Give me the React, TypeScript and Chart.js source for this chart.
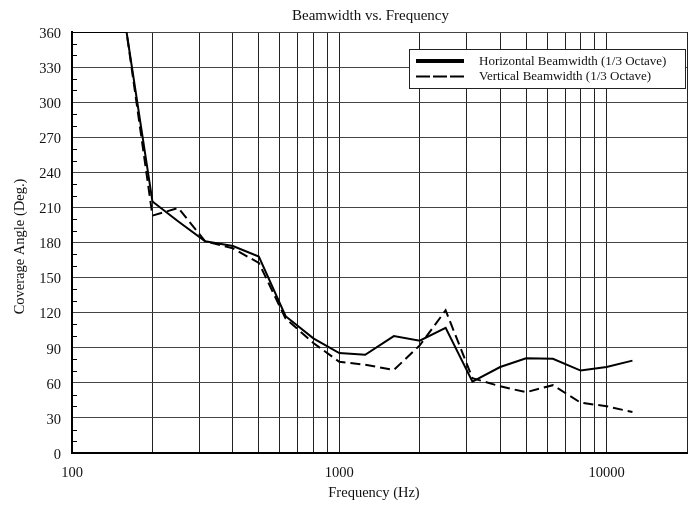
import React, { useEffect, useRef } from 'react';
import { Chart, registerables } from 'chart.js';

Chart.register(...registerables);

// 1/3-octave centre frequencies (Hz)
const frequencies = [100, 125, 160, 200, 250, 315, 400, 500, 630, 800, 1000, 1250, 1600, 2000, 2500, 3150, 4000, 5000, 6300, 8000, 10000, 12500];
// Coverage angle (deg.)
const horizontalBeamwidth = [360, 360, 360, 215, 198, 181, 177, 168, 117, 98, 85.5, 84, 100, 96, 107, 61, 73.5, 81, 80.5, 70.5, 73.5, 79];
const verticalBeamwidth = [360, 360, 360, 203, 209.5, 181, 175, 162.5, 115, 94, 78, 75.5, 71, 92, 122, 64, 57, 52, 58, 43, 40, 35];

const gridFrequencies = [100, 200, 300, 400, 500, 600, 700, 800, 900, 1000, 2000, 3000, 4000, 5000, 6000, 7000, 8000, 9000, 10000, 20000];
const labeledFrequencies = [100, 1000, 10000];

const seriesLabels = ['Horizontal Beamwidth (1/3 Octave)', 'Vertical Beamwidth (1/3 Octave)'];
const chartTitle = 'Beamwidth vs. Frequency';
const xTitle = 'Frequency (Hz)';
const yTitle = 'Coverage Angle (Deg.)';

const FONT = "'Liberation Serif', 'Times New Roman', Times, serif";

const minorTickPlugin = {
  id: 'minorTicks',
  afterDraw(chart: any) {
    const y = chart.scales.y;
    const { ctx, chartArea } = chart;
    ctx.save();
    ctx.strokeStyle = '#000';
    ctx.lineWidth = 1;
    for (let v = 10; v < 360; v += 10) {
      if (v % 30 === 0) continue;
      const py = Math.round(y.getPixelForValue(v)) + 0.5;
      ctx.beginPath();
      ctx.moveTo(chartArea.left, py);
      ctx.lineTo(chartArea.left + 5, py);
      ctx.stroke();
    }
    ctx.restore();
  },
};

const titlesPlugin = {
  id: 'titles',
  afterDraw(chart: any) {
    const { ctx, chartArea } = chart;
    ctx.save();
    ctx.fillStyle = '#111';
    ctx.textAlign = 'center';
    // chart title
    ctx.font = `15px ${FONT}`;
    ctx.textBaseline = 'alphabetic';
    ctx.fillText(chartTitle, chartArea.left + 298.5, 19.5);
    // x title
    ctx.font = `14.5px ${FONT}`;
    ctx.textBaseline = 'middle';
    ctx.fillText(xTitle, chartArea.left + 302, chartArea.bottom + 40);
    // y title
    ctx.translate(20, (chartArea.top + chartArea.bottom) / 2 + 4);
    ctx.rotate(-Math.PI / 2);
    ctx.fillText(yTitle, 0, 0);
    ctx.restore();
  },
};

const boxLegendPlugin = {
  id: 'boxLegend',
  afterDraw(chart: any) {
    const { ctx, chartArea } = chart;
    const right = chartArea.right - 2;
    const left = right - 276;
    const top = chartArea.top + 17;
    const bottom = top + 39;
    ctx.save();
    ctx.fillStyle = '#fff';
    ctx.fillRect(left, top, right - left, bottom - top);
    ctx.strokeStyle = '#222';
    ctx.lineWidth = 1;
    ctx.strokeRect(Math.round(left) + 0.5, Math.round(top) + 0.5, right - left, bottom - top);
    const rows = [
      { y: top + 12, width: 4, dash: [] as number[] },
      { y: top + 27.5, width: 2, dash: [14, 3] },
    ];
    chart.data.datasets.forEach((ds: any, i: number) => {
      const r = rows[i];
      ctx.beginPath();
      ctx.setLineDash(r.dash);
      ctx.lineWidth = r.width;
      ctx.strokeStyle = '#000';
      ctx.moveTo(left + 7, r.y);
      ctx.lineTo(left + 55, r.y);
      ctx.stroke();
      ctx.setLineDash([]);
      ctx.fillStyle = '#111';
      ctx.font = `13px ${FONT}`;
      ctx.textBaseline = 'middle';
      ctx.textAlign = 'left';
      ctx.fillText(ds.label, left + 70, r.y + 0.5);
    });
    ctx.restore();
  },
};

export default function App() {
  const canvasRef = useRef<HTMLCanvasElement | null>(null);

  useEffect(() => {
    document.body.style.margin = '0';
    const canvas = canvasRef.current;
    if (!canvas) return;
    const chart = new Chart(canvas, {
      type: 'line',
      data: {
        datasets: [
          {
            label: seriesLabels[0],
            data: frequencies.map((f, i) => ({ x: f, y: horizontalBeamwidth[i] })),
            borderColor: '#000',
            borderWidth: 2,
            pointRadius: 0,
            tension: 0,
            fill: false,
          },
          {
            label: seriesLabels[1],
            data: frequencies.map((f, i) => ({ x: f, y: verticalBeamwidth[i] })),
            borderColor: '#000',
            borderWidth: 2,
            borderDash: [10, 5],
            pointRadius: 0,
            tension: 0,
            fill: false,
          },
        ],
      },
      options: {
        responsive: false,
        animation: false,
        layout: { padding: { left: 0, right: 8, top: 32, bottom: 0 } },
        plugins: {
          legend: { display: false },
          tooltip: { enabled: false },
          title: { display: false },
        },
        scales: {
          x: {
            type: 'logarithmic',
            min: 100,
            max: 20000,
            afterBuildTicks: (scale: any) => {
              scale.ticks = gridFrequencies.map((v) => ({ value: v }));
            },
            afterFit: (scale: any) => {
              scale.height = 54;
              scale.paddingRight = 0;
              scale.paddingLeft = 0;
            },
            ticks: {
              autoSkip: false,
              maxRotation: 0,
              padding: 11.5,
              color: '#111',
              font: { family: FONT, size: 14.5 },
              callback: (v: any) => (labeledFrequencies.includes(Number(v)) ? String(v) : ''),
            },
            grid: {
              color: '#222',
              lineWidth: 1,
              drawTicks: false,
            },
            border: { color: '#000', width: 2 },
            title: { display: false },
          },
          y: {
            type: 'linear',
            min: 0,
            max: 360,
            afterFit: (scale: any) => {
              scale.width = 72;
            },
            ticks: {
              stepSize: 10,
              autoSkip: false,
              padding: 11,
              labelOffset: 2,
              color: '#111',
              font: { family: FONT, size: 14.5 },
              callback: (v: any) => (Number(v) % 30 === 0 ? String(v) : ''),
            },
            grid: {
              color: (ctx: any) => (ctx.tick && ctx.tick.value % 30 === 0 ? '#444' : 'rgba(0,0,0,0)'),
              lineWidth: 1,
              drawTicks: false,
            },
            border: { color: '#000', width: 2 },
            title: { display: false },
          },
        },
      } as any,
      plugins: [minorTickPlugin, boxLegendPlugin, titlesPlugin],
    });
    return () => chart.destroy();
  }, []);

  return (
    <div style={{ width: 695, height: 507, background: '#fff' }}>
      <canvas ref={canvasRef} width={695} height={507} style={{ display: 'block' }} />
    </div>
  );
}
